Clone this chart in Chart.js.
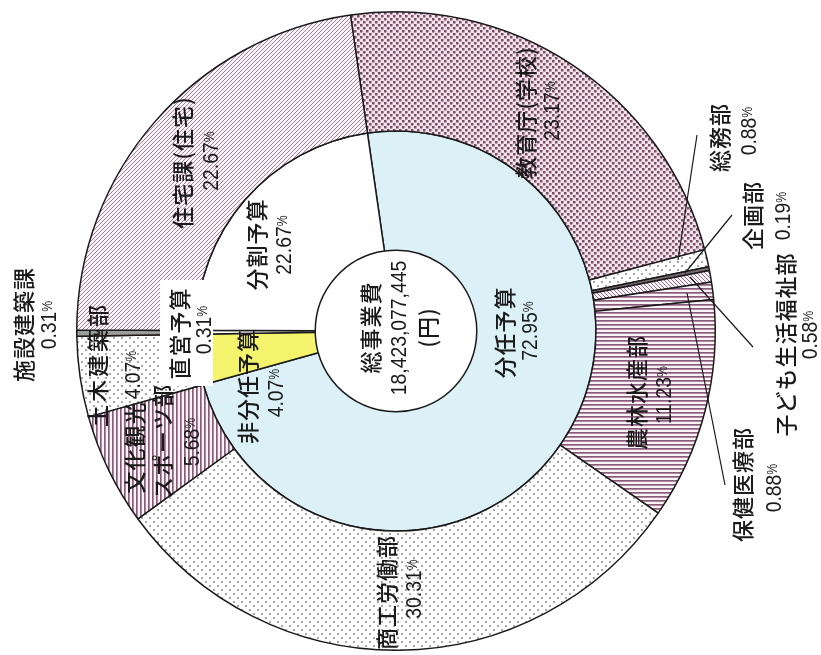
<!DOCTYPE html>
<html>
<head>
<meta charset="utf-8">
<script src="https://cdn.jsdelivr.net/npm/chart.js@4.4.0/dist/chart.umd.min.js"></script>
<style>
  html, body { margin: 0; background: #fff; }
  canvas { display: block; }
</style>
</head>
<body>
<canvas id="budgetChart" width="821" height="655"></canvas>
<script>
'use strict';

// outer ring: departments (%)
const outerNames = ['教育庁(学校)', '総務部', '企画部', '子ども生活福祉部', '保健医療部',
  '農林水産部', '商工労働部', '文化観光スポーツ部', '土木建築部', '施設建築課', '住宅課(住宅)'];
const outerShares = [23.17, 0.88, 0.19, 0.58, 0.88, 11.23, 30.31, 5.68, 4.07, 0.31, 22.67];

// inner ring: budget type (%)
const innerNames = ['分任予算', '非分任予算', '直営予算', '分割予算'];
const innerShares = [72.95, 4.07, 0.31, 22.67];

const totalName = '総事業費';
const totalAmount = '18,423,077,445';
const totalUnit = '(円)';

const canvas = document.getElementById('budgetChart');
const ctx = canvas.getContext('2d');

function tile(w, h, bg, paint) {
  const c = document.createElement('canvas');
  c.width = w; c.height = h;
  const g = c.getContext('2d');
  g.fillStyle = bg;
  g.fillRect(0, 0, w, h);
  paint(g);
  return ctx.createPattern(c, 'repeat');
}

const denseDots = tile(6, 6, '#f2e2ea', g => {
  g.fillStyle = '#7a4c66';
  g.fillRect(0, 0, 2.5, 2.5);
  g.fillRect(3, 3, 2.5, 2.5);
});
const sparseDots = tile(8, 8, '#ffffff', g => {
  g.fillStyle = '#a8a8a8';
  g.fillRect(1, 1, 2, 2);
  g.fillRect(5, 5, 2, 2);
});
const slash = tile(4, 4, '#fbf5f9', g => {
  g.strokeStyle = '#9a7590';
  g.lineWidth = 0.9;
  g.beginPath();
  g.moveTo(0, 4); g.lineTo(4, 0);
  g.moveTo(-1, 1); g.lineTo(1, -1);
  g.moveTo(3, 5); g.lineTo(5, 3);
  g.stroke();
});
const backslash = tile(4, 4, '#fbf5f9', g => {
  g.strokeStyle = '#8e7287';
  g.lineWidth = 1;
  g.beginPath();
  g.moveTo(0, 0); g.lineTo(4, 4);
  g.moveTo(-1, 3); g.lineTo(1, 5);
  g.moveTo(3, -1); g.lineTo(5, 1);
  g.stroke();
});
const hStripes = tile(4, 4, '#fbf3f7', g => {
  g.fillStyle = '#8a5c7a';
  g.fillRect(0, 0, 4, 1.7);
});
const vStripes = tile(4, 4, '#fbf3f7', g => {
  g.fillStyle = '#8a5c7a';
  g.fillRect(0, 0, 1.7, 4);
});

const outerFills = [denseDots, sparseDots, '#7a6a74', backslash, hStripes, hStripes,
  sparseDots, vStripes, sparseDots, '#9c9c9c', slash];
const innerFills = ['#dcf0f8', '#f4f46c', '#ffffff', '#ffffff'];

const pct = v => v.toFixed(2) + '%';

// label positions (screen coords, text runs bottom to top)
const labels = [
  { t: outerNames[9], x: 24, y: 325 },
  { t: pct(outerShares[9]), x: 50, y: 325, num: true },
  { t: outerNames[10], x: 183, y: 163 },
  { t: pct(outerShares[10]), x: 212, y: 161, num: true },
  { t: outerNames[0], x: 526, y: 113 },
  { t: pct(outerShares[0]), x: 553, y: 111, num: true },
  { t: outerNames[1], x: 720, y: 138 },
  { t: pct(outerShares[1]), x: 750, y: 131, num: true },
  { t: outerNames[2], x: 753, y: 216 },
  { t: pct(outerShares[2]), x: 784, y: 216, num: true },
  { t: outerNames[3], x: 786, y: 345 },
  { t: pct(outerShares[3]), x: 811, y: 335, num: true },
  { t: outerNames[4], x: 743, y: 485 },
  { t: pct(outerShares[4]), x: 775, y: 488, num: true },
  { t: outerNames[5], x: 637, y: 393 },
  { t: pct(outerShares[5]), x: 665, y: 395, num: true },
  { t: outerNames[6], x: 387, y: 593 },
  { t: pct(outerShares[6]), x: 415, y: 589, num: true },
  { t: outerNames[7].slice(0, 4), x: 135, y: 448 },
  { t: outerNames[7].slice(4), x: 163, y: 442 },
  { t: pct(outerShares[7]), x: 193, y: 442, num: true },
  { t: outerNames[8], x: 98, y: 366, spacing: 3 },
  { t: pct(outerShares[8]), x: 134, y: 375, num: true },
  { t: innerNames[2], x: 180, y: 334 },
  { t: pct(innerShares[2]), x: 205, y: 330, num: true },
  { t: innerNames[3], x: 257, y: 245 },
  { t: pct(innerShares[3]), x: 285, y: 245, num: true },
  { t: innerNames[1], x: 248, y: 387 },
  { t: pct(innerShares[1]), x: 277, y: 393, num: true },
  { t: innerNames[0], x: 505, y: 333 },
  { t: pct(innerShares[0]), x: 531, y: 331, num: true },
  { t: totalName, x: 371, y: 328 },
  { t: totalAmount, x: 400, y: 328, num: true },
  { t: totalUnit, x: 428, y: 328 }
];

const leaders = [
  [678, 260, 697, 135],
  [685, 273, 732, 215],
  [690, 277, 753, 347],
  [687, 293, 725, 485]
];

const NUM_FONT = '"Liberation Sans", Arial, sans-serif';

function drawLabel(c, item) {
  c.save();
  c.translate(item.x, item.y);
  c.rotate(-Math.PI / 2);
  c.fillStyle = '#1a1a1a';
  c.textBaseline = 'middle';
  if (item.num) {
    c.scale(0.88, 1);
    let main = item.t, tail = '';
    if (main.endsWith('%')) { main = main.slice(0, -1); tail = '%'; }
    c.font = '22px ' + NUM_FONT;
    const w1 = c.measureText(main).width;
    c.font = '14px ' + NUM_FONT;
    const w2 = tail ? c.measureText(tail).width : 0;
    const x0 = -(w1 + w2) / 2;
    c.textAlign = 'left';
    c.font = '22px ' + NUM_FONT;
    c.fillText(main, x0, 0);
    if (tail) {
      c.font = '14px ' + NUM_FONT;
      c.fillText(tail, x0 + w1, -2);
    }
  } else {
    const sp = item.spacing === undefined ? 1 : item.spacing;
    c.font = '500 22px "Noto Sans CJK JP", sans-serif';
    c.letterSpacing = sp + 'px';
    c.textAlign = 'center';
    c.fillText(item.t, sp / 2, 0);
  }
  c.restore();
}

const labelPlugin = {
  id: 'labelPlugin',
  afterDatasetsDraw(chart) {
    const c = chart.ctx;
    // white backing under the 直営予算 label
    c.save();
    c.fillStyle = '#ffffff';
    c.fillRect(160, 280, 53, 106);
    c.strokeStyle = '#1a1a1a';
    c.lineWidth = 1.2;
    c.beginPath();
    leaders.forEach(l => { c.moveTo(l[0], l[1]); c.lineTo(l[2], l[3]); });
    c.stroke();
    c.restore();
    labels.forEach(item => drawLabel(c, item));
  }
};

const budgetChart = new Chart(ctx, {
  type: 'doughnut',
  data: {
    labels: outerNames,
    datasets: [{
      data: outerShares,
      backgroundColor: outerFills,
      borderColor: '#1a1a1a',
      borderWidth: 1.5
    }, {
      data: innerShares,
      backgroundColor: innerFills,
      borderColor: '#1a1a1a',
      borderWidth: 1.5
    }]
  },
  options: {
    responsive: false,
    animation: false,
    events: [],
    rotation: -8.2,
    cutout: '25.3%',
    layout: { padding: { left: 76, right: 105, top: 11, bottom: 4 } },
    plugins: {
      legend: { display: false },
      tooltip: { enabled: false }
    }
  },
  plugins: [labelPlugin]
});
</script>
</body>
</html>
